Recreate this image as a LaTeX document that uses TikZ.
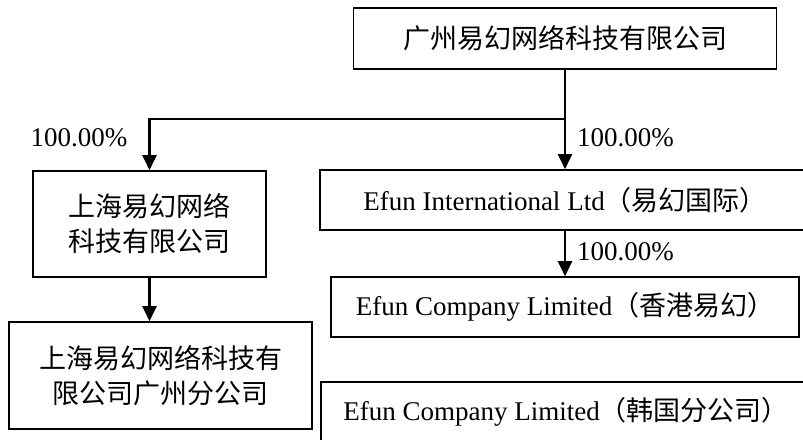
\documentclass[tikz,border=0pt]{standalone}
\usepackage{fontspec}
\setmainfont{Liberation Serif}
\newfontfamily\cjk{Noto Sans CJK SC}
\usetikzlibrary{arrows.meta}
\begin{document}
\begin{tikzpicture}[x=1pt, y=-1pt,
        box/.style={draw, line width=1.6pt, inner sep=0pt, align=center,
            font=\fontsize{27}{35}\selectfont},
        link/.style={line width=2.1pt, -{Triangle[length=15pt, width=14pt]}},
        pct/.style={font=\fontsize{27}{30}\selectfont, inner sep=0pt}]
        \useasboundingbox (0, 0) rectangle (803, 439);
        % parent company
        \node[box, minimum width=423pt, minimum height=61pt] (gz) at (565, 38.5)
            {\cjk 广州易幻网络科技有限公司};
        % left branch
        \node[box, minimum width=233pt, minimum height=106pt] (sh) at (149.5, 224)
            {\cjk 上海易幻网络\\\cjk 科技有限公司};
        \node[box, minimum width=303pt, minimum height=107pt] (shgz) at (160.5, 375.5)
            {\cjk 上海易幻网络科技有\\\cjk 限公司广州分公司};
        % right branch
        \node[box, minimum width=490pt, minimum height=60pt] (intl) at (565, 200)
            {Efun International Ltd{\cjk （易幻国际）}};
        \node[box, minimum width=468pt, minimum height=60pt] (hk) at (565, 307)
            {Efun Company Limited{\cjk （香港易幻）}};
        \node[box, minimum width=490pt, minimum height=60pt] (kr) at (566, 412)
            {Efun Company Limited{\cjk （韩国分公司）}};
        % connectors
        \coordinate (split) at (565, 119);
        \draw[line width=2.1pt] (gz.south) -- (split);
        \draw[link] (split) -| (sh.north);
        \draw[link] (split) -- (intl.north);
        \draw[link] (intl.south) -- (hk.north);
        \draw[link] (sh.south) -- (sh.south |- shgz.north);
        % shares
        \node[pct] (pcta) at (79, 138) {100.00\%};
        \node[pct, anchor=west] (pctb) at (577, 138) {100.00\%};
        \node[pct, anchor=west] (pctc) at (577, 252) {100.00\%};
    \end{tikzpicture}
\end{document}
